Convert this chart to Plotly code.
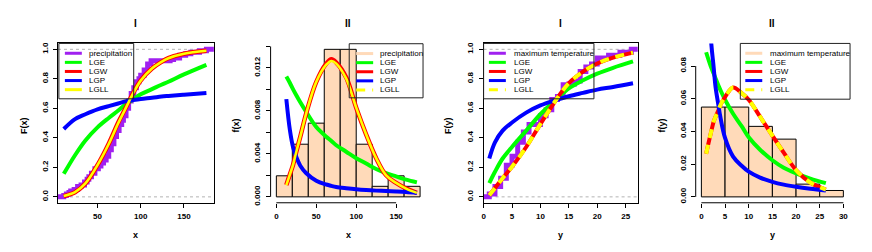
import plotly.graph_objects as go

W, H = 872, 252          # browser window (target picture)
OFF = 8                  # default page margin of the html body
FW, FH = W - OFF, H - OFF  # figure size so that it ends exactly at the window edge

# ---------------- data ----------------
# Panel I (precipitation): empirical CDF and fitted CDFs
prec_ecdf_x = [11, 14, 17, 19, 23, 27, 31, 35, 38, 40, 43, 47, 51, 54, 57, 60, 63, 66, 69, 72,
               75, 78, 80, 83, 86, 89, 92, 95, 98, 100, 104, 108, 112, 134, 138, 145, 152, 158, 168, 176]
prec_ecdf_F = [0.01, 0.02, 0.03, 0.039, 0.05, 0.07, 0.08, 0.10, 0.12, 0.137, 0.16, 0.19, 0.21, 0.23, 0.25,
               0.275, 0.32, 0.36, 0.41, 0.45, 0.49, 0.52, 0.549, 0.60, 0.65, 0.70, 0.74, 0.78, 0.80, 0.824,
               0.86, 0.90, 0.922, 0.931, 0.941, 0.96, 0.97, 0.98, 0.99, 1.0]
prec_cdf_x = [11, 24, 36, 50, 63, 74, 82, 90, 100, 113, 124, 132, 150, 176]
prec_cdf_LGE = [0.156, 0.282, 0.382, 0.471, 0.535, 0.585, 0.625, 0.655, 0.695, 0.73, 0.76, 0.78, 0.83, 0.895]
prec_cdf_LGW = [0.005, 0.031, 0.09, 0.215, 0.36, 0.504, 0.595, 0.69, 0.79, 0.87, 0.915, 0.94, 0.97, 0.99]
prec_cdf_LGP = [0.46, 0.527, 0.56, 0.593, 0.615, 0.633, 0.647, 0.655, 0.664, 0.672, 0.68, 0.684, 0.692, 0.704]
prec_cdf_LGLL = [0.006, 0.032, 0.091, 0.215, 0.358, 0.5, 0.593, 0.688, 0.788, 0.87, 0.915, 0.94, 0.97, 0.99]

# Panel II (precipitation): histogram (density) and fitted PDFs
prec_hist_edges = [0, 20, 40, 60, 80, 100, 120, 140, 160, 180]
prec_hist_density = [0.00196, 0.0049, 0.00686, 0.01373, 0.01373, 0.0049, 0.00098, 0.00196, 0.00098]
prec_pdf_x = [12.5, 17, 21, 25, 30, 37.5, 50, 62.5, 69, 75, 87.5, 100, 112.5, 125, 137.5, 150, 162.5, 176]
prec_pdf_LGE = [0.0112, 0.0106, 0.0100, 0.00945, 0.0088, 0.0079, 0.0065, 0.0056, 0.0052, 0.0048, 0.0042,
                0.0036, 0.0031, 0.0026, 0.0022, 0.0019, 0.0016, 0.00135]
prec_pdf_LGW = [0.0011, 0.0021, 0.003, 0.0042, 0.0056, 0.0078, 0.0107, 0.0124, 0.0128, 0.0125, 0.0111,
                0.0083, 0.0058, 0.0036, 0.002, 0.0013, 0.00077, 0.00037]
prec_pdf_LGP = [0.0091, 0.0062, 0.0046, 0.0037, 0.0029, 0.0022, 0.0015, 0.00115, 0.00102, 0.00092, 0.0008,
                0.0007, 0.00063, 0.00058, 0.00054, 0.0005, 0.00045, 0.00037]
prec_pdf_LGLL = [0.0011, 0.0021, 0.003, 0.0042, 0.0056, 0.0078, 0.0107, 0.0123, 0.01265, 0.0124, 0.011,
                 0.0083, 0.0058, 0.0036, 0.002, 0.0013, 0.00077, 0.00037]

# Panel I (maximum temperature): empirical CDF and fitted CDFs
temp_ecdf_x = [1, 2, 3, 4, 5, 6, 7, 8, 9, 10, 11, 12, 13, 14, 15, 16, 17, 18, 19, 20, 21, 22, 23, 24, 25, 26]
temp_ecdf_F = [0.02, 0.07, 0.127, 0.215, 0.275, 0.37, 0.44, 0.49, 0.49, 0.549, 0.59, 0.66, 0.68, 0.76, 0.765,
               0.785, 0.85, 0.88, 0.90, 0.941, 0.941, 0.96, 0.96, 0.98, 0.98, 1.0]
temp_cdf_x = [1, 2, 3.35, 5, 7.5, 10, 12.8, 15, 17.5, 20, 22.8, 26.3]
temp_cdf_LGE = [0.093, 0.17, 0.26, 0.338, 0.449, 0.56, 0.66, 0.735, 0.79, 0.835, 0.875, 0.918]
temp_cdf_LGW = [0.011, 0.06, 0.127, 0.204, 0.338, 0.493, 0.66, 0.771, 0.849, 0.904, 0.944, 0.978]
temp_cdf_LGP = [0.26, 0.37, 0.449, 0.504, 0.571, 0.62, 0.657, 0.682, 0.705, 0.727, 0.745, 0.77]
temp_cdf_LGLL = [0.011, 0.06, 0.127, 0.204, 0.338, 0.493, 0.66, 0.771, 0.849, 0.904, 0.944, 0.978]

# Panel II (maximum temperature): histogram (density) and fitted PDFs
temp_hist_edges = [0, 5, 10, 15, 20, 25, 30]
temp_hist_density = [0.0549, 0.0549, 0.0431, 0.0353, 0.0078, 0.0039]
temp_pdf_x = [1, 2, 2.6, 3, 3.6, 4, 5, 6.7, 8.5, 10, 12.4, 15, 17.4, 20, 23, 26.3]
temp_pdf_LGE = [0.0884, 0.0796, 0.0754, 0.0724, 0.068, 0.0654, 0.0594, 0.0508, 0.0432, 0.0364, 0.0288,
                0.0224, 0.0178, 0.0144, 0.0112, 0.0084]
temp_pdf_LGW = [0.0264, 0.039, 0.046, 0.049, 0.053, 0.056, 0.061, 0.0668, 0.0634, 0.0594, 0.049, 0.0374,
                0.027, 0.0164, 0.0088, 0.0044]
temp_pdf_LGP = [0.16, 0.097, 0.079, 0.067, 0.056, 0.049, 0.036, 0.0246, 0.019, 0.0154, 0.0118, 0.0092,
                0.0075, 0.0062, 0.005, 0.0039]
temp_pdf_LGLL = [0.0264, 0.039, 0.046, 0.049, 0.053, 0.056, 0.061, 0.0668, 0.0634, 0.0594, 0.049, 0.0374,
                 0.027, 0.0164, 0.0088, 0.0044]

titles = ["I", "II", "I", "II"]
x_titles = ["x", "x", "y", "y"]
y_titles = ["F(x)", "f(x)", "F(y)", "f(y)"]
legend_labels_prec = ["precipitation", "LGE", "LGW", "LGP", "LGLL"]
legend_labels_temp = ["maximum temperature", "LGE", "LGW", "LGP", "LGLL"]

# ---------------- style ----------------
FONT = "Liberation Sans, Arial, Helvetica, sans-serif"
PURPLE = "#A020F0"
GREEN = "#00FF00"
RED = "#FF0000"
BLUE = "#0000FF"
YELLOW = "#FFFF00"
PEACH = "#FFDAB9"
GRAY = "#B3B3B3"

# panel geometry in window pixels: (left, right), x range, y range
PLOT_TOP, PLOT_BOTTOM = 43, 205
panels = [
    dict(px=(56.1, 212.4), xr=[4.3, 184.7], yr=[-0.04, 1.04]),
    dict(px=(269.2, 424.8), xr=[-7.2, 187.2], yr=[-0.00055, 0.01428]),
    dict(px=(482.7, 637.3), xr=[0.0, 27.15], yr=[-0.04, 1.04]),
    dict(px=(695.3, 849.0), xr=[-1.2, 31.2], yr=[-0.0036, 0.0938]),
]


def fx(p):
    return (p - OFF) / FW


def fy(p):
    return 1 - (p - OFF) / FH


fig = go.Figure()
shapes = []
annotations = []


def line_trace(x, y, color, width, ax, dash="solid", shape="spline"):
    fig.add_trace(go.Scatter(
        x=x, y=y, mode="lines", xaxis="x" + ax, yaxis="y" + ax,
        line=dict(color=color, width=width, dash=dash, shape=shape, smoothing=1.0),
        showlegend=False, hoverinfo="skip"))


def ecdf_trace(xs, Fs, ax, xr):
    x = [xr[0]] + xs + [xr[1]]
    y = [0] + Fs + [Fs[-1]]
    line_trace(x, y, PURPLE, 5, ax, shape="hv")


def hist_trace(edges, dens, ax):
    mids = [(a + b) / 2 for a, b in zip(edges[:-1], edges[1:])]
    widths = [b - a for a, b in zip(edges[:-1], edges[1:])]
    fig.add_trace(go.Bar(
        x=mids, y=dens, width=widths, xaxis="x" + ax, yaxis="y" + ax,
        marker=dict(color=PEACH, line=dict(color="black", width=1)),
        showlegend=False, hoverinfo="skip"))


# Panel 1
ecdf_trace(prec_ecdf_x, prec_ecdf_F, "", panels[0]["xr"])
line_trace(prec_cdf_x, prec_cdf_LGE, GREEN, 4, "")
line_trace(prec_cdf_x, prec_cdf_LGW, RED, 4.5, "")
line_trace(prec_cdf_x, prec_cdf_LGP, BLUE, 4, "")
line_trace(prec_cdf_x, prec_cdf_LGLL, YELLOW, 2.6, "")

# Panel 2
hist_trace(prec_hist_edges, prec_hist_density, "2")
line_trace(prec_pdf_x, prec_pdf_LGE, GREEN, 4, "2")
line_trace(prec_pdf_x, prec_pdf_LGW, RED, 4.5, "2")
line_trace(prec_pdf_x, prec_pdf_LGP, BLUE, 4, "2")
line_trace(prec_pdf_x, prec_pdf_LGLL, YELLOW, 2.6, "2")

# Panel 3
ecdf_trace(temp_ecdf_x, temp_ecdf_F, "3", panels[2]["xr"])
line_trace(temp_cdf_x, temp_cdf_LGE, GREEN, 4, "3")
line_trace(temp_cdf_x, temp_cdf_LGW, RED, 4, "3")
line_trace(temp_cdf_x, temp_cdf_LGP, BLUE, 4, "3")
line_trace(temp_cdf_x, temp_cdf_LGLL, YELLOW, 4, "3", dash="9px,7px")

# Panel 4
hist_trace(temp_hist_edges, temp_hist_density, "4")
line_trace(temp_pdf_x, temp_pdf_LGE, GREEN, 4, "4")
line_trace(temp_pdf_x, temp_pdf_LGW, RED, 4, "4")
line_trace(temp_pdf_x, temp_pdf_LGP, BLUE, 4, "4")
line_trace(temp_pdf_x, temp_pdf_LGLL, YELLOW, 4, "4", dash="9px,7px")

# ---------------- axes ----------------
tick_font = dict(family=FONT, size=8, color="black", weight="bold")
axis_common = dict(showgrid=False, zeroline=False, ticks="outside", ticklen=4, tickwidth=1,
                   tickcolor="black", tickfont=tick_font, linecolor="black", linewidth=1)

x_ticks = [
    ([50, 100, 150], ["50", "100", "150"]),
    ([0, 50, 100, 150], ["0", "50", "100", "150"]),
    ([0, 5, 10, 15, 20, 25], ["0", "5", "10", "15", "20", "25"]),
    ([0, 5, 10, 15, 20, 25, 30], ["0", "5", "10", "15", "20", "25", "30"]),
]
y_ticks = [
    ([0, 0.2, 0.4, 0.6, 0.8, 1.0], ["0.0", "0.2", "0.4", "0.6", "0.8", "1.0"]),
    ([0, 0.002, 0.004, 0.006, 0.008, 0.010, 0.012, 0.014],
     ["0.000", "", "0.004", "", "0.008", "", "0.012", ""]),
    ([0, 0.2, 0.4, 0.6, 0.8, 1.0], ["0.0", "0.2", "0.4", "0.6", "0.8", "1.0"]),
    ([0, 0.02, 0.04, 0.06, 0.08], ["0.00", "0.02", "0.04", "0.06", "0.08"]),
]

layout = dict(
    width=FW, height=FH, margin=dict(l=0, r=0, t=0, b=0),
    paper_bgcolor="white", plot_bgcolor="rgba(0,0,0,0)",
    font=dict(family=FONT, color="black"),
    showlegend=False,
)

ydom = [fy(PLOT_BOTTOM), fy(PLOT_TOP)]
for i, p in enumerate(panels):
    sfx = "" if i == 0 else str(i + 1)
    boxed = i in (0, 2)
    xa = dict(axis_common, domain=[fx(p["px"][0]), fx(p["px"][1])], range=p["xr"],
              anchor="y" + sfx, tickvals=x_ticks[i][0], ticktext=x_ticks[i][1],
              showline=boxed, mirror=boxed, ticklabelstandoff=2)
    ya = dict(axis_common, domain=ydom, range=p["yr"], anchor="x" + sfx,
              tickvals=y_ticks[i][0], ticktext=y_ticks[i][1], tickangle=-90,
              showline=boxed, mirror=boxed, ticklabelstandoff=2)
    layout["xaxis" + sfx] = xa
    layout["yaxis" + sfx] = ya

    cx = (p["px"][0] + p["px"][1]) / 2
    annotations.append(dict(text="<b>%s</b>" % titles[i], xref="paper", yref="paper", x=fx(cx), y=fy(23),
                            xanchor="center", yanchor="middle", showarrow=False,
                            font=dict(size=10, family=FONT)))
    annotations.append(dict(text="<b>%s</b>" % x_titles[i], xref="paper", yref="paper", x=fx(cx), y=fy(238),
                            xanchor="center", yanchor="middle", showarrow=False,
                            font=dict(size=9, family=FONT)))
    ylab_x = [22, 235, 447, 662][i]
    annotations.append(dict(text="<b>%s</b>" % y_titles[i], xref="paper", yref="paper", x=fx(ylab_x),
                            y=fy(126), xanchor="center", yanchor="middle", showarrow=False,
                            textangle=-90, font=dict(size=9, family=FONT)))

    if boxed:
        # gray dashed reference lines at F = 0 and F = 1
        for lvl in (y_ticks[i][0][0], y_ticks[i][0][-1]):
            shapes.append(dict(type="line", xref="x%s domain" % sfx, yref="y" + sfx, x0=0, x1=1,
                               y0=lvl, y1=lvl, layer="below",
                               line=dict(color=GRAY, width=1, dash="3px,3px")))
    else:
        # R-style axis lines spanning first to last tick
        xt = x_ticks[i][0]
        yt = y_ticks[i][0]
        shapes.append(dict(type="line", xref="x" + sfx, yref="y%s domain" % sfx, x0=xt[0], x1=xt[-1],
                           y0=0, y1=0, line=dict(color="black", width=1)))
        shapes.append(dict(type="line", xref="x%s domain" % sfx, yref="y" + sfx, x0=0, x1=0,
                           y0=yt[0], y1=yt[-1], line=dict(color="black", width=1)))


def add_legend(box, lx0, lx1, tx, entries):
    l, t, r, b = box
    shapes.append(dict(type="rect", xref="paper", yref="paper", x0=fx(l), x1=fx(r), y0=fy(b), y1=fy(t),
                       line=dict(color="#222222", width=1), fillcolor="rgba(0,0,0,0)", layer="above"))
    for k, (label, color, width, dash) in enumerate(entries):
        yy = t + 10 + k * 9.25
        shapes.append(dict(type="line", xref="paper", yref="paper", x0=fx(lx0), x1=fx(lx1),
                           y0=fy(yy), y1=fy(yy), line=dict(color=color, width=width, dash=dash)))
        annotations.append(dict(text=label, xref="paper", yref="paper", x=fx(tx), y=fy(yy),
                                xanchor="left", yanchor="middle", showarrow=False,
                                font=dict(size=8, family=FONT, color="black")))


cols_p1 = [PURPLE, GREEN, RED, BLUE, YELLOW]
cols_p2 = [PEACH, GREEN, RED, BLUE, YELLOW]
add_legend((57, 43, 132, 99.3), 63, 80, 85,
           [(legend_labels_prec[k], cols_p1[k], 3, "solid") for k in range(5)])
add_legend((348, 43.3, 422, 98.3), 355, 372, 376.7,
           [(legend_labels_prec[k], cols_p2[k], 3, "solid" if k < 4 else "9px,7px") for k in range(5)])
add_legend((482.7, 43, 593.3, 99.3), 488, 505, 511,
           [(legend_labels_temp[k], cols_p1[k], 3, "solid" if k < 4 else "9px,7px") for k in range(5)])
add_legend((740, 43, 850, 99.7), 745, 762, 767.3,
           [(legend_labels_temp[k], cols_p2[k], 3, "solid" if k < 4 else "9px,7px") for k in range(5)])

layout["shapes"] = shapes
layout["annotations"] = annotations
fig.update_layout(**layout)
fig.write_html("out.html")
